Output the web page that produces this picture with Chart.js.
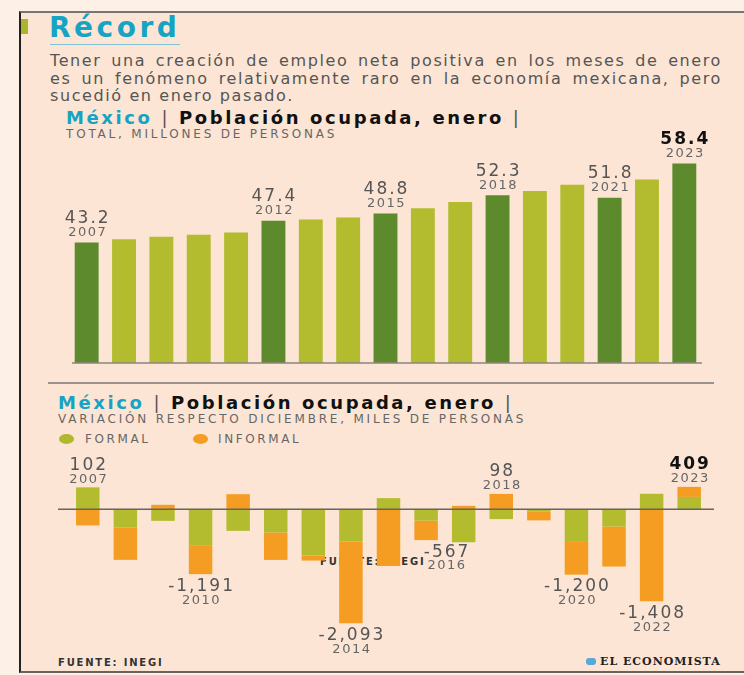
<!DOCTYPE html>
<html>
<head>
<meta charset="utf-8">
<script src="https://cdn.jsdelivr.net/npm/chart.js@4.4.1/dist/chart.umd.min.js"></script>
<style>
  body { margin: 0; width: 744px; height: 675px; overflow: hidden; position: relative; background: #fdf0e6; font-family: "DejaVu Sans", sans-serif; }
  #frame { position: absolute; left: 19px; top: 11px; width: 725px; height: 662px; background: #fce5d4; border-left: 2px solid #222; border-top: 2px solid #7a7470; border-bottom: 2px solid #6a6460; box-sizing: border-box; }
  .abs { position: absolute; white-space: nowrap; }
  #mark { left: 21px; top: 19px; width: 7px; height: 15px; background: #a9b52b; }
  #title { left: 49px; top: 13px; font-size: 28px; line-height: 30px; font-weight: bold; color: #17a3c4; letter-spacing: 3.5px; }
  #titleRule { left: 50px; top: 44px; width: 130px; height: 1px; background: #7fc4d4; }
  #lead { left: 50px; top: 52px; width: 672px; font-size: 16px; line-height: 17.5px; color: #555; letter-spacing: 1.6px; white-space: normal; }
  #lead div { text-align: justify; text-align-last: justify; white-space: nowrap; }
  #lead div.last { text-align-last: left; }
  .head { font-size: 18px; font-weight: bold; color: #111; letter-spacing: 2.6px; }
  .head .mx { color: #17a3c4; }
  .head .bar { font-weight: normal; color: #555; }
  .sub { font-size: 12px; color: #666; letter-spacing: 2.8px; }
  #head1 { left: 66px; top: 107px; }
  #sub1 { left: 66px; top: 127px; }
  #rule { left: 48px; top: 382px; width: 666px; height: 2px; background: #9a928c; }
  #head2 { left: 58px; top: 392px; }
  #sub2 { left: 58px; top: 412px; }
  .dot { position: absolute; width: 15px; height: 10px; border-radius: 50%; }
  .leg { font-size: 12px; color: #666; letter-spacing: 2.6px; }
  #ghost { left: 320px; top: 556px; font-size: 10px; font-weight: bold; color: #333; letter-spacing: 1.8px; }
  #source { left: 58px; top: 657px; font-size: 10px; font-weight: bold; color: #333; letter-spacing: 1.8px; }
  #brand { left: 586px; top: 655px; font-family: "DejaVu Serif", serif; font-size: 11px; font-weight: bold; color: #222; letter-spacing: 1px; }
  #brand span { display: inline-block; width: 10px; height: 7px; background: #5aa8d8; border-radius: 3px; margin-right: 4px; }
  canvas { position: absolute; }
  #totalChart { left: 40px; top: 120px; }
  #changeChart { left: 40px; top: 440px; }
</style>
</head>
<body>
<div id="frame"></div>
<div class="abs" id="mark"></div>
<div class="abs" id="title">Récord</div>
<div class="abs" id="titleRule"></div>
<div class="abs" id="lead">
  <div>Tener una creación de empleo neta positiva en los meses de enero</div>
  <div>es un fenómeno relativamente raro en la economía mexicana, pero</div>
  <div class="last">sucedió en enero pasado.</div>
</div>
<div class="abs head" id="head1"><span class="mx">México</span> <span class="bar">|</span> Población ocupada, enero <span class="bar">|</span></div>
<div class="abs sub" id="sub1">TOTAL, MILLONES DE PERSONAS</div>
<div class="abs" id="rule"></div>
<div class="abs head" id="head2"><span class="mx">México</span> <span class="bar">|</span> Población ocupada, enero <span class="bar">|</span></div>
<div class="abs sub" id="sub2">VARIACIÓN RESPECTO DICIEMBRE, MILES DE PERSONAS</div>
<div class="dot" style="left:59px;top:434px;background:#b0b92e"></div>
<div class="abs leg" style="left:85px;top:432px">FORMAL</div>
<div class="dot" style="left:193px;top:434px;background:#f59c22"></div>
<div class="abs leg" style="left:218px;top:432px">INFORMAL</div>
<div class="abs" id="ghost">FUENTE: INEGI</div>
<div class="abs" id="source">FUENTE: INEGI</div>
<div class="abs" id="brand"><span></span>EL ECONOMISTA</div>

<canvas id="totalChart" width="680" height="255"></canvas>
<canvas id="changeChart" width="680" height="225"></canvas>

<script>
// Años
const years = ['2007', '2008', '2009', '2010', '2011', '2012', '2013', '2014', '2015',
               '2016', '2017', '2018', '2019', '2020', '2021', '2022', '2023'];

// Población ocupada total en enero, millones
const totalEmployed = [43.2, 43.8, 44.3, 44.7, 45.1, 47.4, 47.6, 48.0, 48.8,
                       49.8, 51.0, 52.3, 53.1, 54.3, 51.8, 55.3, 58.4];
const totalHighlight = ['2007', '2012', '2015', '2018', '2021', '2023'];

// Variación respecto a diciembre, miles de personas
const formal = [400, -336, -214, -670, -397, -428, -850, -593, 202,
                -210, -606, -182, -40, -600, -318, 282, 225];
const informal = [-298, -593, 80, -521, 275, -502, -92, -1500, -1040,
                  -357, 61, 280, -165, -600, -734, -1690, 184];
const changeHighlight = ['2007', '2010', '2014', '2016', '2018', '2020', '2022', '2023'];

const darkGreen = '#5c8a2c';
const lightGreen = '#b3bb2e';
const orange = '#f59c22';
const labelFont = '"DejaVu Sans", sans-serif';

// Texto de etiqueta: valor arriba, año abajo
function drawPair(ctx, x, yValue, yYear, value, year, strong) {
    ctx.fillStyle = strong ? '#111' : '#555';
    ctx.font = (strong ? 'bold 17px ' : '17px ') + labelFont;
    ctx.letterSpacing = '2px';
    ctx.fillText(value, x + 1, yValue);
    ctx.fillStyle = '#666';
    ctx.font = '13px ' + labelFont;
    ctx.letterSpacing = '1.5px';
    ctx.fillText(year, x + 1, yYear);
}

// Línea base
const baseline = {
    id: 'baseline',
    afterDatasetsDraw(chart) {
        const ctx = chart.ctx;
        const a = chart.chartArea;
        const y = chart.scales.y.getPixelForValue(chart.scales.y.min);
        ctx.save();
        ctx.strokeStyle = '#8a8480';
        ctx.lineWidth = 1.5;
        ctx.beginPath();
        ctx.moveTo(a.left + 4, y);
        ctx.lineTo(a.right - 1, y);
        ctx.stroke();
        ctx.restore();
    }
};

// Etiquetas sobre las barras destacadas
const totalLabels = {
    id: 'totalLabels',
    afterDatasetsDraw(chart) {
        const ctx = chart.ctx;
        const meta = chart.getDatasetMeta(0);
        ctx.save();
        ctx.textAlign = 'center';
        ctx.textBaseline = 'middle';
        years.forEach((yr, i) => {
            if (!totalHighlight.includes(yr)) return;
            const bar = meta.data[i];
            drawPair(ctx, bar.x, bar.y - 24, bar.y - 10, totalEmployed[i].toFixed(1), yr, i === years.length - 1);
        });
        ctx.restore();
    }
};

new Chart(document.getElementById('totalChart'), {
    type: 'bar',
    data: {
        labels: years,
        datasets: [{
            data: totalEmployed,
            backgroundColor: years.map(y => totalHighlight.includes(y) ? darkGreen : lightGreen),
            barPercentage: 0.64,
            categoryPercentage: 1
        }]
    },
    options: {
        responsive: false,
        animation: false,
        devicePixelRatio: 1,
        layout: { padding: { left: 28, right: 17, top: 30, bottom: 12 } },
        plugins: { legend: { display: false }, tooltip: { enabled: false } },
        scales: {
            x: { display: false },
            y: { display: false, min: 20, max: 61 }
        }
    },
    plugins: [baseline, totalLabels]
});

// Línea de cero
const zeroLine = {
    id: 'zeroLine',
    afterDatasetsDraw(chart) {
        const ctx = chart.ctx;
        const a = chart.chartArea;
        const y = chart.scales.y.getPixelForValue(0);
        ctx.save();
        ctx.strokeStyle = '#6a6460';
        ctx.lineWidth = 1.5;
        ctx.beginPath();
        ctx.moveTo(a.left - 11, y);
        ctx.lineTo(a.right + 6, y);
        ctx.stroke();
        ctx.restore();
    }
};

// Etiquetas de variación neta
const changeLabels = {
    id: 'changeLabels',
    afterDatasetsDraw(chart) {
        const ctx = chart.ctx;
        const yScale = chart.scales.y;
        const meta = chart.getDatasetMeta(0);
        const shift = { '2016': 20 };
        ctx.save();
        ctx.textAlign = 'center';
        ctx.textBaseline = 'middle';
        years.forEach((yr, i) => {
            if (!changeHighlight.includes(yr)) return;
            const vals = [formal[i], informal[i]];
            const net = vals[0] + vals[1];
            const x = meta.data[i].x + (shift[yr] || 0);
            let yValue, yYear;
            if (net >= 0) {
                const top = yScale.getPixelForValue(vals.filter(v => v > 0).reduce((s, v) => s + v, 0));
                yValue = top - 22;
                yYear = top - 8;
            } else {
                const bottom = yScale.getPixelForValue(vals.filter(v => v < 0).reduce((s, v) => s + v, 0));
                yValue = bottom + 12;
                yYear = bottom + 26;
            }
            drawPair(ctx, x, yValue, yYear, net.toLocaleString('en-US'), yr, i === years.length - 1);
        });
        ctx.restore();
    }
};

new Chart(document.getElementById('changeChart'), {
    type: 'bar',
    data: {
        labels: years,
        datasets: [
            { label: 'FORMAL', data: formal, backgroundColor: lightGreen, barPercentage: 0.625, categoryPercentage: 1 },
            { label: 'INFORMAL', data: informal, backgroundColor: orange, barPercentage: 0.625, categoryPercentage: 1 }
        ]
    },
    options: {
        responsive: false,
        animation: false,
        devicePixelRatio: 1,
        layout: { padding: { left: 29, right: 12, top: 31, bottom: 14 } },
        plugins: { legend: { display: false }, tooltip: { enabled: false } },
        scales: {
            x: { display: false, stacked: true },
            y: { display: false, stacked: true, min: -2600, max: 700 }
        }
    },
    plugins: [zeroLine, changeLabels]
});
</script>
</body>
</html>
